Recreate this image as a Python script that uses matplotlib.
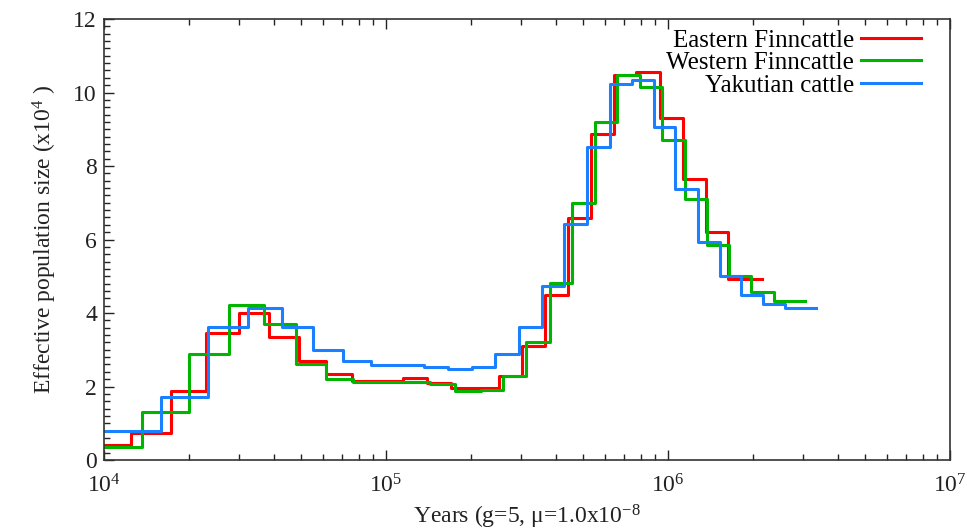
import matplotlib
matplotlib.use("Agg")
import matplotlib.pyplot as plt
from matplotlib.ticker import MultipleLocator, LogLocator, LogFormatterMathtext, NullFormatter

plt.rcParams['font.family'] = ['Liberation Serif', 'DejaVu Serif']
plt.rcParams['mathtext.fontset'] = 'custom'
plt.rcParams['mathtext.rm'] = 'Liberation Serif'
plt.rcParams['mathtext.it'] = 'Liberation Serif:italic'
plt.rcParams['mathtext.bf'] = 'Liberation Serif:bold'

# Eastern Finncattle
east_t = [5000, 12470, 17300, 23000, 30200, 38600, 49100, 61300, 76000, 114600,
          139600, 170600, 204600, 251300, 304000, 367000, 443700, 534000, 644600,
          773000, 935000, 1127000, 1365000, 1637000]
east_end = 2161000
east_n = [0.41, 0.74, 1.89, 3.45, 3.99, 3.36, 2.70, 2.34, 2.16, 2.22,
          2.10, 1.95, 1.97, 2.29, 3.10, 4.49, 6.58, 8.87, 10.48,
          10.57, 9.31, 7.66, 6.21, 4.93]

# Western Finncattle
west_t = [5000, 13650, 20100, 27800, 37000, 48000, 61100, 76600, 96800, 143500,
          176200, 216400, 260500, 314800, 381000, 458000, 552000, 662000, 794000,
          954000, 1146000, 1371000, 1645000, 1976000, 2368000]
west_end = 3062000
west_n = [0.36, 1.30, 2.89, 4.21, 3.69, 2.61, 2.20, 2.11, 2.13, 2.06,
          1.89, 1.90, 2.29, 3.20, 4.83, 6.98, 9.21, 10.49, 10.16,
          8.71, 7.10, 5.85, 5.01, 4.58, 4.33]

# Yakutian cattle
yak_t = [5000, 15900, 23300, 32400, 42800, 55300, 70300, 88700, 136200, 166000,
         202000, 244300, 296700, 358000, 429600, 516800, 620400, 746700, 888900,
         1058000, 1276000, 1525000, 1810000, 2171000, 2595000]
yak_end = 3360000
yak_n = [0.80, 1.72, 3.61, 4.14, 3.61, 2.99, 2.69, 2.58, 2.54, 2.48,
         2.54, 2.88, 3.62, 4.73, 6.41, 8.51, 10.22, 10.34, 9.07,
         7.37, 5.94, 5.02, 4.49, 4.24, 4.13]

series = [
    ("Eastern Finncattle", east_t, east_end, east_n, "#ff0000"),
    ("Western Finncattle", west_t, west_end, west_n, "#00b400"),
    ("Yakutian cattle", yak_t, yak_end, yak_n, "#1a80ff"),
]

fig = plt.figure(figsize=(9.67, 5.31), dpi=100)
ax = fig.add_axes([0.1075, 0.1337, 0.8749, 0.8305])

for name, t, tend, n, c in series:
    ax.step(list(t) + [tend], list(n) + [n[-1]], where="post", color=c, lw=2.2, label=name)

ax.set_xscale("log")
ax.set_xlim(1e4, 1e7)
ax.set_ylim(0, 12)

ax.xaxis.set_major_locator(LogLocator(base=10, numticks=10))
ax.xaxis.set_minor_locator(LogLocator(base=10, subs=range(2, 10), numticks=20))
ax.xaxis.set_major_formatter(LogFormatterMathtext())
ax.xaxis.set_minor_formatter(NullFormatter())
ax.yaxis.set_major_locator(MultipleLocator(2))
ax.yaxis.set_minor_locator(MultipleLocator(0.2))

ax.tick_params(axis="both", which="both", direction="in", top=True, right=False,
               labelsize=17, colors="#222222", width=1)
ax.tick_params(axis="x", which="major", length=7, pad=10)
ax.tick_params(axis="y", which="major", length=7, pad=5)
ax.tick_params(axis="both", which="minor", length=4)
for s in ax.spines.values():
    s.set_color("#333333")
    s.set_linewidth(1.2)

ax.set_ylabel("Effective population size (x10$^{4}$ )", fontsize=17, color="#222222", labelpad=10)
ax.set_xlabel("Years (g=5, \u03bc=1.0x10$^{-8}$", fontsize=17, color="#222222", labelpad=4)

ax.legend(loc="upper right", frameon=False, markerfirst=False, fontsize=18,
          handlelength=2.4, handletextpad=0.25, labelspacing=0.0,
          borderaxespad=0.0, bbox_to_anchor=(0.977, 1.0))

fig.savefig("out.png", dpi=100, facecolor="white")
